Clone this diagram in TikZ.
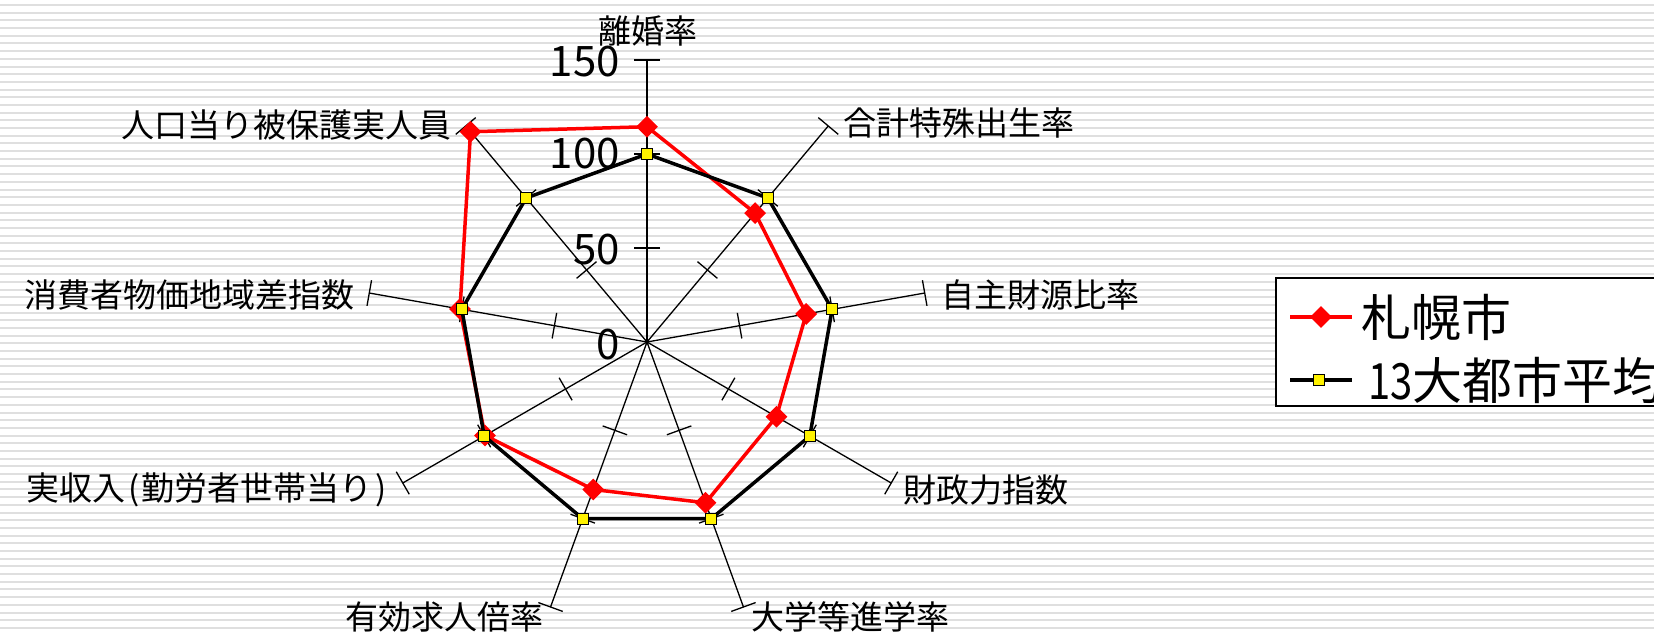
\documentclass[tikz,border=0pt]{standalone}
\usepackage{fontspec}
\setmainfont{Noto Sans CJK JP}
\usetikzlibrary{shapes.geometric}
\begin{document}
\begin{tikzpicture}[x=1pt,y=1pt,
  stripe/.style={gray!25,line width=2pt},
  axisline/.style={line width=1.3pt,black},
  tickmark/.style={line width=1.3pt,black},
  sap/.style={red,line width=3.5pt,line join=miter},
  avg/.style={black,line width=3.5pt,line join=miter},
  dmark/.style={diamond,fill=red,inner sep=0pt,minimum width=22pt,minimum height=22pt},
  smark/.style={rectangle,fill=yellow,draw=black,line width=1.2pt,inner sep=0pt,minimum size=11pt},
  lab/.style={font=\fontsize{33}{33}\selectfont,inner sep=0pt},
  num/.style={font=\fontsize{42}{42}\selectfont,inner sep=0pt,anchor=east},
  leg/.style={font=\fontsize{50}{50}\selectfont,inner sep=0pt,anchor=west},
  legbox/.style={draw=black,line width=1.5pt,fill=white}
]
\useasboundingbox (-647,-292) rectangle (1007,342);
\clip (-647,-292) rectangle (1007,342);
\fill[white] (-647,-292) rectangle (1007,342);
\foreach \k in {0,...,82} \draw[stripe] (-647,{337-7.69*\k}) -- (1007,{337-7.69*\k});
% axes
\coordinate (O) at (0,0);
\foreach \a [count=\i from 0] in {90,50,10,-30,-70,-110,-150,170,130} {
  \coordinate (E\i) at (\a:282);
  \draw[axisline] (O) -- (E\i);
  \foreach \r in {94,188,282}
    \draw[tickmark,shift={(\a:\r)},rotate=\a] (0,-13) -- (0,13);
}
% scale numbers
\node[num] (n150) at (-27,280) {150};
\node[num] (n100) at (-27,188) {100};
\node[num] (n50) at (-27,92) {50};
\node[num] (n0) at (-27,-3) {0};
% data points
\foreach \a/\v [count=\i from 0] in {90/114.5,50/89.5,10/86,-30/79.5,-70/91,-110/83.5,-150/99.5,170/101,130/146}
  \coordinate (S\i) at (\a:{\v*1.88});
\foreach \a [count=\i from 0] in {90,50,10,-30,-70,-110,-150,170,130}
  \coordinate (A\i) at (\a:188);
\draw[sap] (S0) -- (S1) -- (S2) -- (S3) -- (S4) -- (S5) -- (S6) -- (S7) -- (S8) -- cycle;
\foreach \i in {0,...,8} \node[dmark] (dS\i) at (S\i) {};
\draw[avg] (A0) -- (A1) -- (A2) -- (A3) -- (A4) -- (A5) -- (A6) -- (A7) -- (A8) -- cycle;
\foreach \i in {0,...,8} \node[smark] (sA\i) at (A\i) {};
% axis labels
\node[lab] (L0) at (1,311) {離婚率};
\node[lab,anchor=west] (L1) at (196,219) {合計特殊出生率};
\node[lab,anchor=west] (L2) at (294,47) {自主財源比率};
\node[lab,anchor=west] (L3) at (256,-148) {財政力指数};
\node[lab,anchor=west] (L4) at (104,-275) {大学等進学率};
\node[lab,anchor=east] (L5) at (-103,-275) {有効求人倍率};
\node[lab,anchor=east] (L6) at (-260,-148) {実収入\kern3pt(\kern2pt勤労者世帯当り\kern3pt)};
\node[lab,anchor=east] (L7) at (-292,47) {消費者物価地域差指数};
\node[lab,anchor=east] (L8) at (-195,217) {人口当り被保護実人員};
% legend
\draw[legbox] (629,64) rectangle (1100,-64);
\coordinate (R1a) at (643,25);
\coordinate (R1b) at (705,25);
\draw[sap] (R1a) -- (R1b);
\node[dmark] (legD) at (674,25) {};
\node[leg] (legT1) at (714,25) {札幌市};
\coordinate (R2a) at (643,-38);
\coordinate (R2b) at (705,-38);
\draw[avg] (R2a) -- (R2b);
\node[smark] (legS) at (672,-38) {};
\node[leg] (legT2) at (721,-38) {\scalebox{0.8}[1]{13}大都市平均};
\end{tikzpicture}
\end{document}
